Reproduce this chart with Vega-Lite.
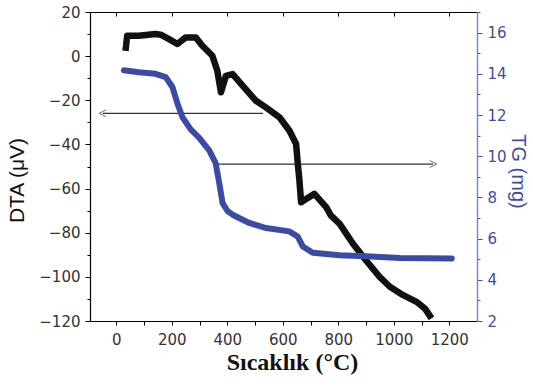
{
  "$schema": "https://vega.github.io/schema/vega-lite/v6.json",
  "width": 387,
  "height": 309,
  "autosize": "none",
  "padding": {"left": 90, "top": 12, "right": 56, "bottom": 66},
  "background": "white",
  "config": {
    "view": {"stroke": null},
    "axis": {"labelFont": "DejaVu Sans", "titleFont": "Liberation Sans", "grid": false}
  },
  "datasets": {
    "dta": [
      {"t": 33, "v": 2.4}, {"t": 39, "v": 9.2}, {"t": 81, "v": 9.2}, {"t": 141, "v": 10},
      {"t": 160, "v": 9.7}, {"t": 190, "v": 7.7}, {"t": 220, "v": 5.5}, {"t": 250, "v": 8.5},
      {"t": 286, "v": 8.5}, {"t": 310, "v": 4.7}, {"t": 346, "v": 0.2}, {"t": 364, "v": -6.6},
      {"t": 377, "v": -16.4}, {"t": 395, "v": -8.9}, {"t": 419, "v": -8.1}, {"t": 455, "v": -13.4},
      {"t": 503, "v": -20.2}, {"t": 539, "v": -23.2}, {"t": 588, "v": -27.7}, {"t": 624, "v": -33.8},
      {"t": 648, "v": -39.8}, {"t": 654, "v": -48.8}, {"t": 660, "v": -56.4}, {"t": 666, "v": -66.2},
      {"t": 684, "v": -64.7}, {"t": 714, "v": -62.4}, {"t": 757, "v": -68.5}, {"t": 772, "v": -72},
      {"t": 805, "v": -76}, {"t": 853, "v": -85}, {"t": 901, "v": -92.7}, {"t": 949, "v": -100},
      {"t": 986, "v": -104.5}, {"t": 1034, "v": -108.3}, {"t": 1082, "v": -111.3}, {"t": 1112, "v": -114.3},
      {"t": 1136, "v": -118.8}
    ],
    "tg": [
      {"t": 27, "m": 14.17}, {"t": 81, "m": 14.08}, {"t": 141, "m": 14.0}, {"t": 178, "m": 13.84},
      {"t": 202, "m": 13.36}, {"t": 220, "m": 12.56}, {"t": 238, "m": 11.9}, {"t": 268, "m": 11.3},
      {"t": 298, "m": 10.9}, {"t": 334, "m": 10.3}, {"t": 358, "m": 9.66}, {"t": 371, "m": 8.69},
      {"t": 383, "m": 7.72}, {"t": 400, "m": 7.35}, {"t": 419, "m": 7.16}, {"t": 479, "m": 6.76},
      {"t": 540, "m": 6.51}, {"t": 623, "m": 6.35}, {"t": 654, "m": 6.1}, {"t": 672, "m": 5.62},
      {"t": 708, "m": 5.31}, {"t": 805, "m": 5.19}, {"t": 901, "m": 5.14}, {"t": 1022, "m": 5.06},
      {"t": 1209, "m": 5.03}
    ],
    "arrows": [
      {"dir": "left", "from": 529, "to": -49, "v": -25.9},
      {"dir": "right", "from": 355, "to": 1142, "v": -48.9}
    ]
  },
  "layer": [
    {
      "layer": [
        {
          "data": {"name": "arrows"},
          "mark": {"type": "rule", "color": "#333333", "strokeWidth": 1.2},
          "encoding": {
            "x": {"field": "from", "type": "quantitative"},
            "x2": {"field": "to"},
            "y": {"field": "v", "type": "quantitative"}
          }
        },
        {
          "data": {"name": "arrows"},
          "mark": {"type": "point", "filled": false, "color": "#333333", "strokeWidth": 1, "size": 50},
          "encoding": {
            "x": {"field": "to", "type": "quantitative"},
            "y": {"field": "v", "type": "quantitative"},
            "shape": {
              "field": "dir", "type": "nominal", "legend": null,
              "scale": {"domain": ["left", "right"], "range": ["M1,-1L-1,0L1,1", "M-1,-1L1,0L-1,1"]}
            }
          }
        },
        {
          "data": {"name": "dta"},
          "mark": {"type": "line", "color": "#111111", "strokeWidth": 6.5, "strokeJoin": "round", "strokeCap": "butt"},
          "encoding": {
            "x": {"field": "t", "type": "quantitative"},
            "y": {"field": "v", "type": "quantitative"}
          }
        }
      ],
      "encoding": {
        "x": {
          "field": "t", "type": "quantitative",
          "scale": {"domain": [-95, 1300], "nice": false, "zero": false},
          "axis": {
            "orient": "bottom",
            "values": [0, 100, 200, 300, 400, 500, 600, 700, 800, 900, 1000, 1100, 1200],
            "labelExpr": "datum.value % 200 === 0 ? datum.label : ''",
            "format": "d",
            "tickSize": 4, "tickColor": "#000000", "domainColor": "#000000", "domainWidth": 1.2,
            "labelFontSize": 15, "labelColor": "#333333", "labelPadding": 7,
            "title": "Sıcaklık (°C)", "titleFont": "Liberation Serif", "titleFontWeight": "bold",
            "titleFontSize": 24, "titleColor": "#111111", "titlePadding": 3, "titleX": 202
          }
        },
        "y": {
          "type": "quantitative",
          "scale": {"domain": [-120, 20], "nice": false, "zero": false},
          "axis": {
            "orient": "left",
            "values": [-120, -110, -100, -90, -80, -70, -60, -50, -40, -30, -20, -10, 0, 10, 20],
            "labelExpr": "datum.value % 20 === 0 ? datum.label : ''",
            "tickSize": {"condition": {"test": "datum.value % 20 === 0", "value": 5}, "value": 3},
            "tickColor": "#000000", "domainColor": "#000000", "domainWidth": 1.2,
            "labelFontSize": 15, "labelColor": "#333333", "labelPadding": 5,
            "title": "DTA (μV)", "titleFontSize": 21, "titleFontWeight": "normal", "titleColor": "#111111",
            "titlePadding": 11, "titleY": 168
          }
        }
      }
    },
    {
      "data": {"name": "tg"},
      "mark": {"type": "line", "color": "#3b4ba3", "strokeWidth": 6, "strokeJoin": "round", "strokeCap": "round"},
      "encoding": {
        "x": {
          "field": "t", "type": "quantitative",
          "scale": {"domain": [-95, 1300], "nice": false, "zero": false},
          "axis": {
            "orient": "top", "values": [0, 200, 400, 600, 800, 1000, 1200], "labels": false,
            "tickSize": -4, "tickColor": "#000000", "domainColor": "#000000", "domainWidth": 1.2, "title": null
          }
        },
        "y": {
          "field": "m", "type": "quantitative",
          "scale": {"domain": [2, 17], "nice": false, "zero": false},
          "axis": {
            "orient": "right",
            "values": [2, 3, 4, 5, 6, 7, 8, 9, 10, 11, 12, 13, 14, 15, 16, 17],
            "labelExpr": "datum.value % 2 === 0 ? datum.label : ''",
            "tickSize": {"condition": {"test": "datum.value % 2 === 0", "value": 5}, "value": 3},
            "tickColor": "#3e4ea0", "domainColor": "#7c88c4", "domainWidth": 1.5,
            "labelFontSize": 15, "labelColor": "#3e4ea0", "labelPadding": 5,
            "title": "TG (mg)", "titleFontSize": 20, "titleFontWeight": "normal", "titleColor": "#3e4ea0",
            "titlePadding": 1, "titleY": 159
          }
        }
      }
    }
  ],
  "resolve": {"scale": {"y": "independent"}, "axis": {"x": "independent"}}
}
